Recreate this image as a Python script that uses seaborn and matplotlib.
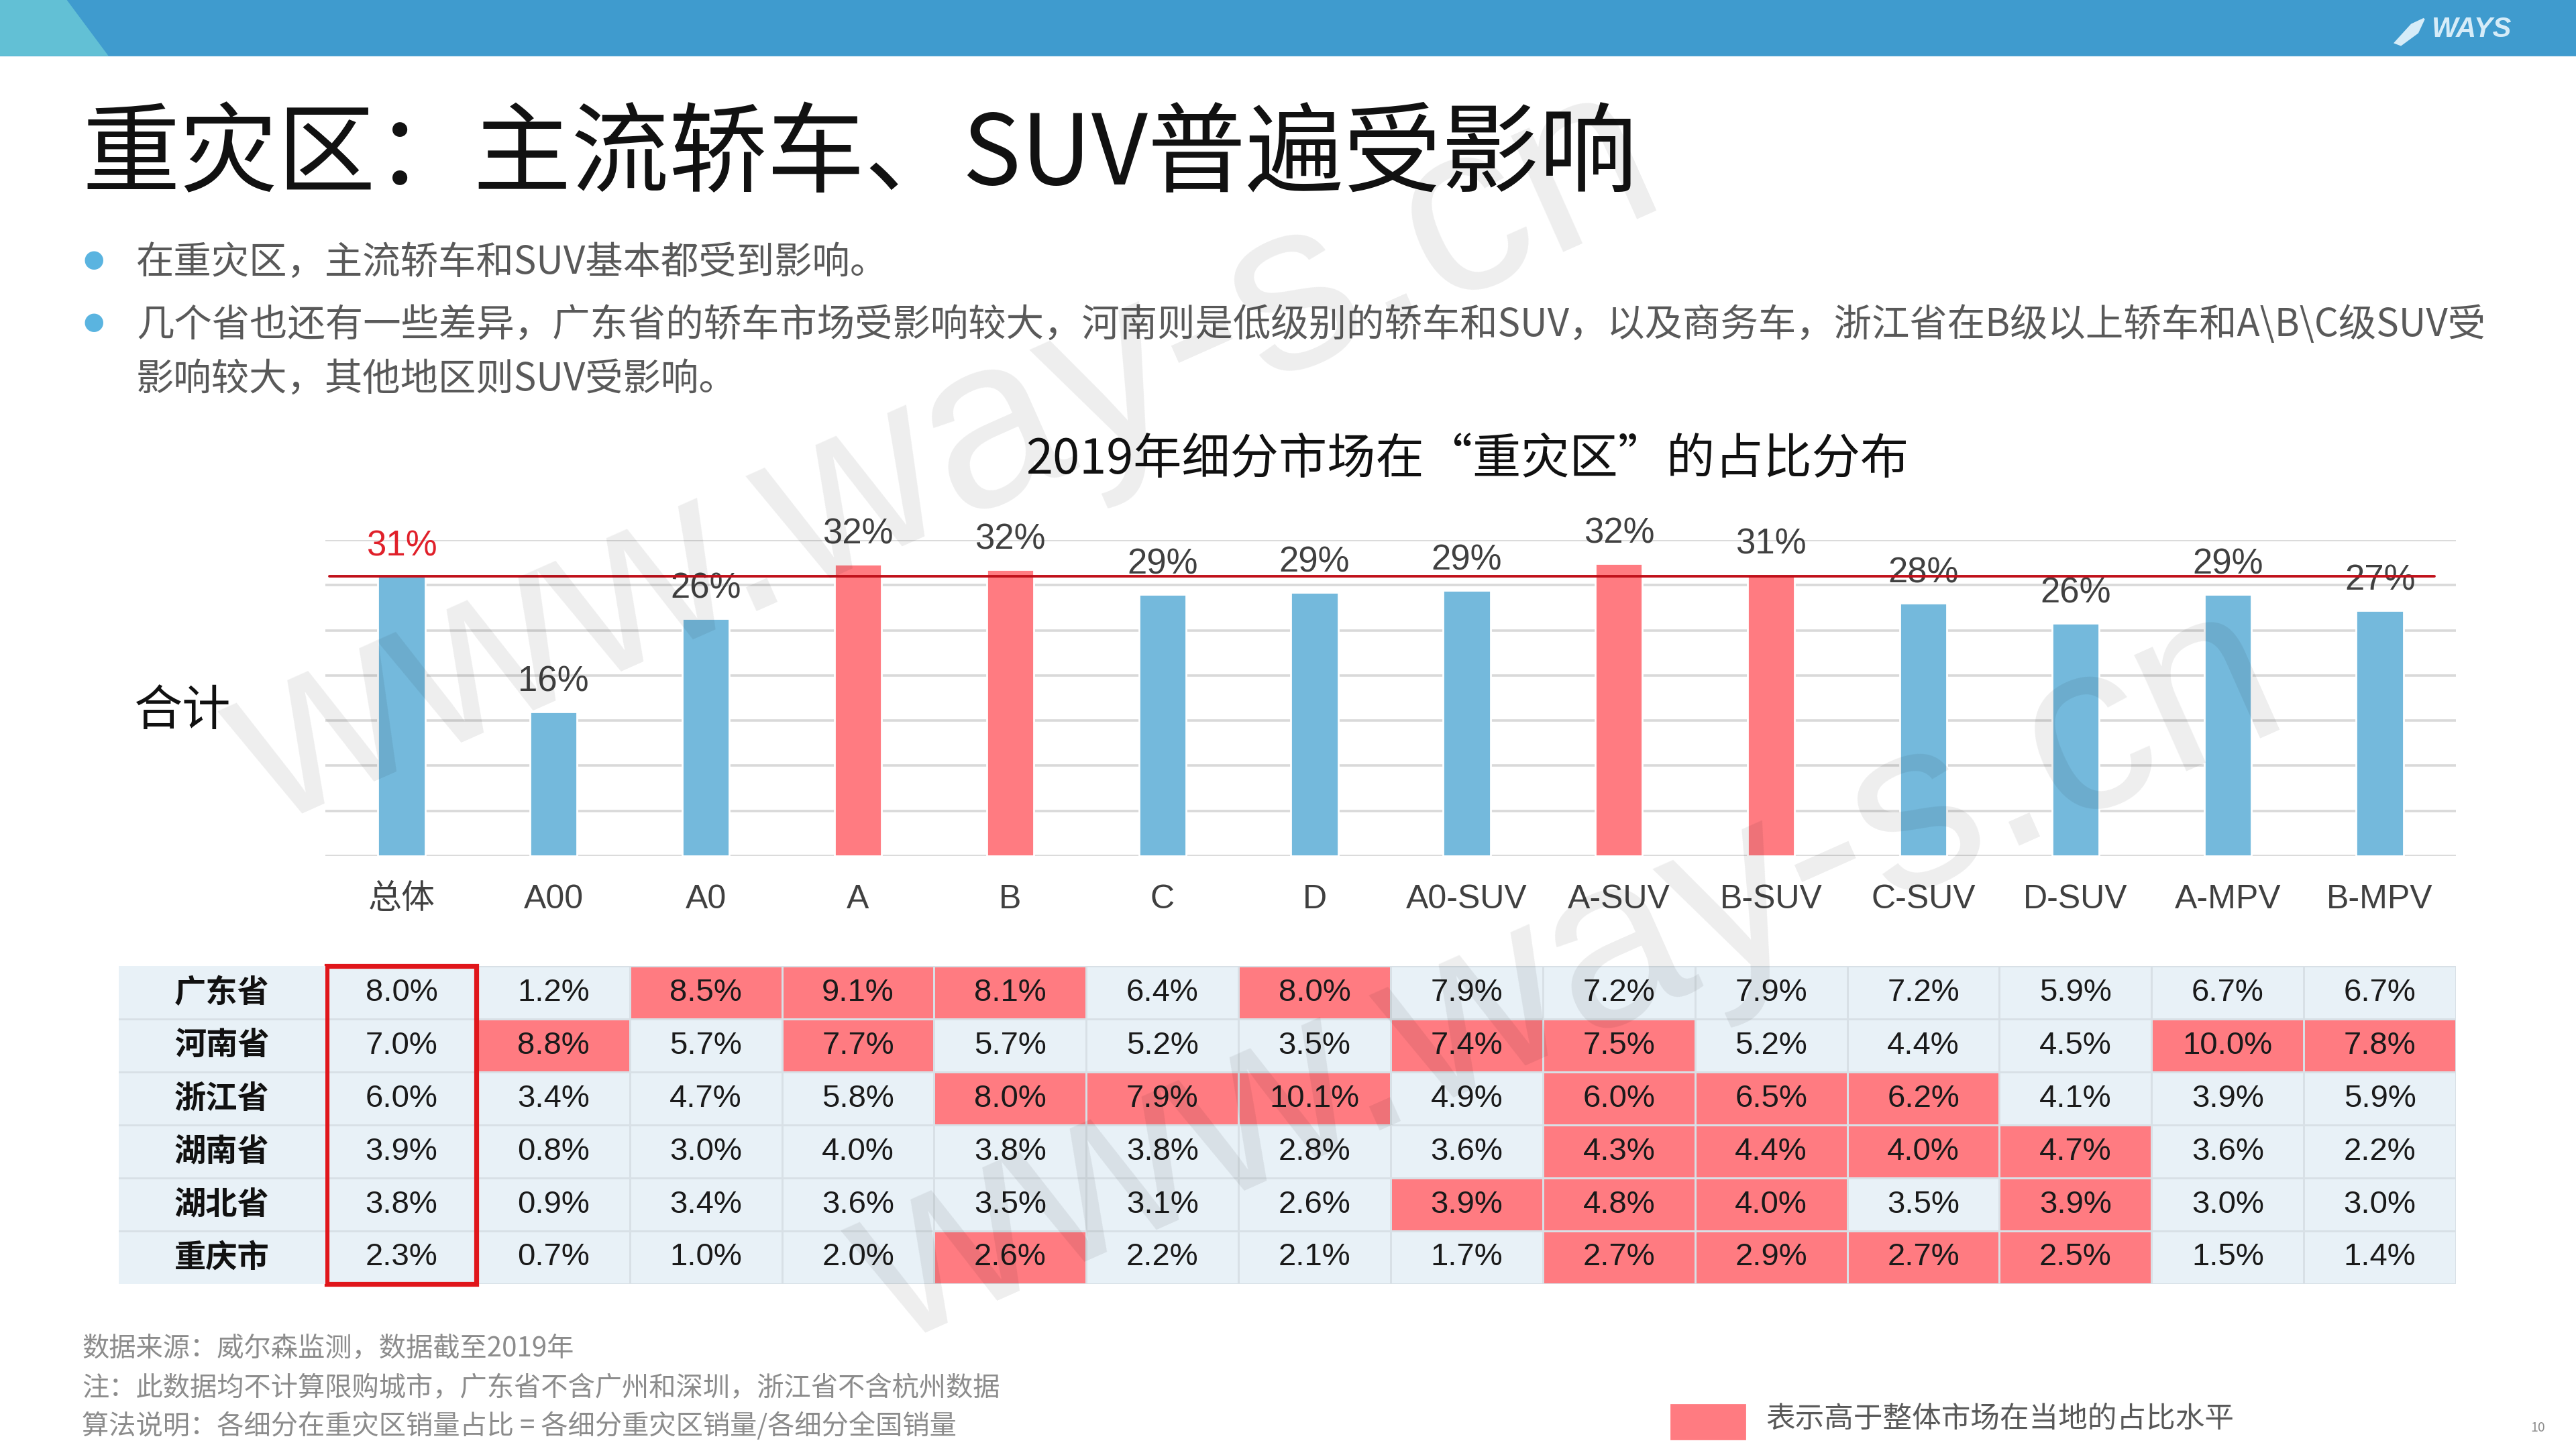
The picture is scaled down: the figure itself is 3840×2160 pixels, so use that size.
import matplotlib

matplotlib.use("Agg")

import matplotlib.pyplot as plt
import numpy as np
import pandas as pd
import seaborn as sns
from matplotlib import font_manager
from matplotlib.colors import ListedColormap
from matplotlib.patches import Polygon, Rectangle

# ---- data ----
segments = ["总体", "A00", "A0", "A", "B", "C", "D", "A0-SUV", "A-SUV",
            "B-SUV", "C-SUV", "D-SUV", "A-MPV", "B-MPV"]
total_share = [31.0, 16.0, 26.3, 32.3, 31.7, 29.0, 29.2, 29.4, 32.4,
               31.2, 28.0, 25.8, 29.0, 27.2]
bar_highlight = [0, 0, 0, 1, 1, 0, 0, 0, 1, 1, 0, 0, 0, 0]

provinces = ["广东省", "河南省", "浙江省", "湖南省", "湖北省", "重庆市"]
guangdong = [8.0, 1.2, 8.5, 9.1, 8.1, 6.4, 8.0, 7.9, 7.2, 7.9, 7.2, 5.9, 6.7, 6.7]
henan = [7.0, 8.8, 5.7, 7.7, 5.7, 5.2, 3.5, 7.4, 7.5, 5.2, 4.4, 4.5, 10.0, 7.8]
zhejiang = [6.0, 3.4, 4.7, 5.8, 8.0, 7.9, 10.1, 4.9, 6.0, 6.5, 6.2, 4.1, 3.9, 5.9]
hunan = [3.9, 0.8, 3.0, 4.0, 3.8, 3.8, 2.8, 3.6, 4.3, 4.4, 4.0, 4.7, 3.6, 2.2]
hubei = [3.8, 0.9, 3.4, 3.6, 3.5, 3.1, 2.6, 3.9, 4.8, 4.0, 3.5, 3.9, 3.0, 3.0]
chongqing = [2.3, 0.7, 1.0, 2.0, 2.6, 2.2, 2.1, 1.7, 2.7, 2.9, 2.7, 2.5, 1.5, 1.4]

# 1 = cell shaded red on the slide
highlight = [
    [0, 0, 1, 1, 1, 0, 1, 0, 0, 0, 0, 0, 0, 0],
    [0, 1, 0, 1, 0, 0, 0, 1, 1, 0, 0, 0, 1, 1],
    [0, 0, 0, 0, 1, 1, 1, 0, 1, 1, 1, 0, 0, 0],
    [0, 0, 0, 0, 0, 0, 0, 0, 1, 1, 1, 1, 0, 0],
    [0, 0, 0, 0, 0, 0, 0, 1, 1, 1, 0, 1, 0, 0],
    [0, 0, 0, 0, 1, 0, 0, 0, 1, 1, 1, 1, 0, 0],
]

title = "重灾区：主流轿车、SUV普遍受影响"
bullets = [
    "在重灾区，主流轿车和SUV基本都受到影响。",
    "几个省也还有一些差异，广东省的轿车市场受影响较大，河南则是低级别的轿车和SUV，以及商务车，浙江省在B级以上轿车和A\\B\\C级SUV受",
    "影响较大，其他地区则SUV受影响。",
]
chart_title = "2019年细分市场在“重灾区”的占比分布"
notes = [
    "数据来源：威尔森监测，数据截至2019年",
    "注：此数据均不计算限购城市，广东省不含广州和深圳，浙江省不含杭州数据",
    "算法说明：各细分在重灾区销量占比 = 各细分重灾区销量/各细分全国销量",
]
legend_text = "表示高于整体市场在当地的占比水平"

BLUE = "#74b9dc"
RED = "#ff7b81"
CELL = "#e8f1f7"

sns.set_theme(style="white")
plt.rcParams["font.family"] = ["Noto Sans CJK SC", "DejaVu Sans"]

installed = {f.name for f in font_manager.fontManager.ttflist}
narrow = "Liberation Sans Narrow" if "Liberation Sans Narrow" in installed else "Liberation Sans"
LATIN = [narrow, "Noto Sans CJK SC"]

fig = plt.figure(figsize=(19.2, 10.8), dpi=200)
fig.patch.set_facecolor("white")

# header band
fig.patches.append(Rectangle((0, 0.962), 1, 0.038, transform=fig.transFigure,
                             color="#3f9bce", zorder=0))
fig.patches.append(Polygon([(0, 1), (0.0255, 1), (0.0414, 0.962), (0, 0.962)],
                           closed=True, transform=fig.transFigure,
                           color="#62c0d5", zorder=1))
fig.patches.append(Polygon([(0.9298, 0.9705), (0.9362, 0.9830), (0.9410, 0.9870),
                            (0.9385, 0.9775), (0.9320, 0.9690)],
                           closed=True, transform=fig.transFigure,
                           color="#d6ecf8", zorder=2))
fig.text(0.9595, 0.9795, "WAYS", fontsize=15, fontweight="bold", style="italic",
         color="#d6ecf8", ha="center", va="center", family=["Liberation Sans"])

fig.text(0.032, 0.892, title, fontsize=52.5, color="#111111", va="center")

bullet_y = [0.8186, 0.7755, 0.7381]
for i, (line, y) in enumerate(zip(bullets, bullet_y)):
    if i < 2:
        fig.text(0.0364, y, "●", fontsize=11, color="#5ab4e0", va="center", ha="center")
    fig.text(0.0529, y, line, fontsize=20.3, color="#595959", va="center")

fig.text(0.5695, 0.6825, chart_title, fontsize=26, color="#111111",
         ha="center", va="center")
fig.text(0.0708, 0.509, "合计", fontsize=26, color="#111111", ha="center", va="center")

# ---- bar chart ----
ax = fig.add_axes([0.1263, 0.4093, 0.8271, 0.218])
df = pd.DataFrame({"segment": segments, "share": total_share})
palette = {s: (RED if h else BLUE) for s, h in zip(segments, bar_highlight)}
sns.barplot(data=df, x="segment", y="share", hue="segment", palette=palette,
            legend=False, width=0.31, saturation=1, ax=ax)
ax.set_ylim(0, 35)
ax.set_xlim(-0.5, len(segments) - 0.5)
ax.set_yticks(np.arange(0, 36, 5))
ax.yaxis.grid(True, color="#d9d9d9", linewidth=1.3)
ax.set_axisbelow(True)
ax.tick_params(axis="y", left=False, labelleft=False)
ax.tick_params(axis="x", bottom=False, pad=9, labelsize=18, labelcolor="#404040")
for lab in ax.get_xticklabels():
    lab.set_family(LATIN)
ax.set_xlabel("")
ax.set_ylabel("")
for side in ax.spines.values():
    side.set_visible(False)
ax.axhline(total_share[0], xmin=0.002, xmax=0.99, color="#c0101a", linewidth=1.4, zorder=5)
for i, v in enumerate(total_share):
    ax.annotate(f"{round(v):.0f}%", (i, v), xytext=(0, 16), textcoords="offset points",
                ha="center", va="center", fontsize=19, family=LATIN,
                color="#e0202a" if i == 0 else "#404040")

# ---- province table ----
values = np.array([guangdong, henan, zhejiang, hunan, hubei, chongqing])
labels = np.array([[f"{v:.1f}%" for v in row] for row in values])
tab_bottom, tab_height = 0.1139, 0.2194
axt = fig.add_axes([0.1263, tab_bottom, 0.8271, tab_height])
sns.heatmap(np.array(highlight), cmap=ListedColormap([CELL, RED]), vmin=0, vmax=1,
            annot=labels, fmt="", cbar=False, linewidths=1.0, linecolor="#d8e0e6",
            xticklabels=False, yticklabels=False, ax=axt,
            annot_kws={"fontsize": 17, "color": "#1a1a1a", "family": LATIN})
axt.add_patch(Rectangle((0.01, 0.0), 0.98, len(provinces), fill=False,
                        edgecolor="#e0161b", linewidth=2.6, clip_on=False, zorder=6))

axh = fig.add_axes([0.046, tab_bottom, 0.0803, tab_height])
axh.set_xlim(0, 1)
axh.set_ylim(len(provinces), 0)
axh.axis("off")
axh.add_patch(Rectangle((0, 0), 1, len(provinces), color=CELL, zorder=0))
for i, p in enumerate(provinces):
    axh.text(0.5, i + 0.5, p, ha="center", va="center", fontsize=17,
             fontweight="bold", color="#111111")
    if i:
        axh.axhline(i, color="#d8e0e6", linewidth=1.0)

# ---- footer ----
for line, y in zip(notes, [0.0692, 0.0420, 0.0159]):
    fig.text(0.0319, y, line, fontsize=14.5, color="#8c8c8c", va="center")
fig.patches.append(Rectangle((0.6486, 0.0068), 0.0287, 0.0238, transform=fig.transFigure,
                             color=RED, zorder=2))
fig.text(0.6856, 0.0204, legend_text, fontsize=15.7, color="#595959", va="center")
fig.text(0.9853, 0.0147, "10", fontsize=7, color="#8c8c8c", ha="center", va="center")

# ---- watermark ----
for cx, cy in [(0.367, 0.683), (0.609, 0.325)]:
    fig.text(cx, cy, "www.way-s.cn", fontsize=130, rotation=24, rotation_mode="anchor",
             ha="center", va="center", color="#000000", alpha=0.07,
             family=["Liberation Sans"], zorder=10)

fig.savefig("out.png", dpi=200, facecolor="white")
